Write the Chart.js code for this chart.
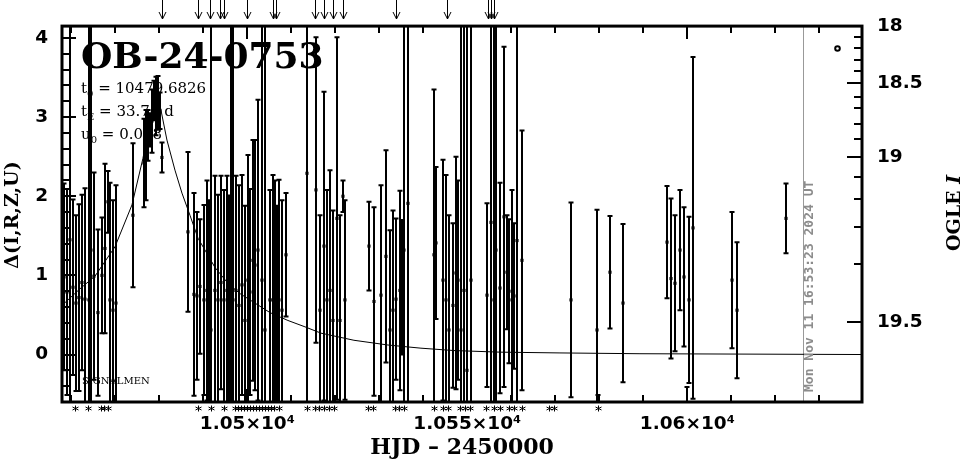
<!DOCTYPE html>
<html>
<head>
<meta charset="utf-8">
<script src="https://cdn.jsdelivr.net/npm/chart.js@4.4.1/dist/chart.umd.min.js"></script>
<style>
  html, body { margin: 0; padding: 0; background: #fff; }
  #wrap { width: 965px; height: 459px; }
</style>
</head>
<body>
<div id="wrap"><canvas id="lc" width="965" height="459"></canvas></div>
<script>
// OGLE light curve (HJD - 2450000, delta mag)
const hjd = [
  10458.34, 10459.02, 10459.70, 10460.39, 10461.07, 10461.75, 10462.43, 10463.11, 10464.02, 10464.48,
  10465.16, 10466.07, 10466.98, 10467.66, 10468.34, 10468.80, 10469.48, 10470.16, 10474.02, 10476.52,
  10476.98, 10477.43, 10477.89, 10478.34, 10478.80, 10479.25, 10479.70, 10480.16, 10480.61, 10486.52,
  10487.89, 10488.57, 10489.25, 10490.16, 10490.84, 10491.30, 10491.75, 10492.66, 10493.34, 10494.02,
  10494.70, 10495.39, 10495.84, 10496.30, 10496.75, 10497.43, 10498.11, 10498.80, 10499.48, 10500.16,
  10500.61, 10501.30, 10501.75, 10502.43, 10503.34, 10504.02, 10505.16, 10505.84, 10506.30, 10506.75,
  10507.20, 10507.89, 10508.80, 10513.57, 10515.61, 10516.52, 10517.43, 10518.11, 10518.80, 10519.48,
  10520.39, 10521.07, 10521.75, 10522.20, 10527.66, 10528.80, 10530.39, 10531.52, 10532.43, 10533.11,
  10533.80, 10534.70, 10535.16, 10535.61, 10536.52, 10542.43, 10542.89, 10544.48, 10545.16, 10545.84,
  10546.75, 10547.43, 10547.89, 10548.57, 10549.25, 10549.93, 10550.84, 10554.48, 10555.39, 10556.07,
  10556.52, 10557.43, 10558.34, 10559.02, 10559.48, 10560.16, 10560.61, 10561.30, 10562.43, 10573.57,
  10579.48, 10579.70, 10582.43, 10585.39, 10595.39, 10596.30, 10597.20, 10598.34, 10599.25, 10599.93,
  10600.39, 10601.30, 10610.16, 10611.30, 10622.43
];
const delta = [
  0.98, 0.79, 1.45, 0.85, 0.65, 0.72, 0.91, 0.70, 0.69, 1.32,
  0.99, 0.53, 1.00, 1.34, 1.93, 0.69, 0.56, 0.65, 1.76, 2.42,
  2.52, 2.77, 2.84, 2.95, 3.21, 3.14, 3.18, 3.08, 2.49, 1.55,
  0.76, 0.74, 0.86, 0.69, 0.81, 0.56, 0.31, 0.81, 0.69, 0.91,
  0.69, 0.81, 0.56, 0.43, 0.69, 0.81, 0.62, 0.88, 0.43, 0.94,
  0.79, 1.19, 1.13, 1.32, 0.94, 0.31, 0.69, 0.69, 0.81, 0.43,
  0.69, 0.56, 1.26, 2.29, 2.08, 0.56, 1.37, 0.69, 0.81, 0.43,
  1.72, 0.43, 2.00, 0.69, 1.37, 0.67, 0.75, 1.24, 0.31, 0.56,
  0.70, 0.81, 0.85, 1.32, 1.91, 1.26, 1.41, 0.94, 0.69, 0.31,
  0.62, 1.03, 0.94, 0.31, 0.81, -0.20, 0.94, 0.75, 1.67, 0.69,
  1.32, 0.84, 1.74, 1.04, 0.80, 0.69, 0.74, 1.44, 1.19, 0.69,
  0.31, -1.08, 1.04, 0.65, 1.42, 0.96, 0.90, 1.32, 0.98, -1.08,
  0.69, 1.60, 0.94, 0.56, 1.72
];
const deltaErr = [
  1.18, 1.30, 5.00, 1.11, 1.11, 1.18, 1.11, 1.40, 5.00, 5.00,
  1.31, 1.05, 0.73, 1.07, 0.39, 1.48, 1.39, 1.49, 0.91, 0.56,
  0.57, 0.32, 0.21, 0.40, 0.25, 0.37, 0.34, 0.23, 0.19, 1.01,
  1.28, 1.06, 0.85, 1.20, 1.39, 1.39, 5.00, 1.45, 1.33, 1.35,
  1.39, 1.45, 1.45, 5.00, 5.00, 1.45, 1.52, 1.39, 1.45, 1.58,
  1.30, 1.52, 1.58, 1.90, 5.00, 5.00, 1.39, 1.58, 1.39, 1.45,
  1.52, 1.39, 0.78, 5.00, 1.93, 1.20, 1.95, 1.39, 1.52, 1.39,
  2.29, 1.33, 0.20, 1.26, 0.56, 1.19, 1.39, 1.34, 1.26, 1.26,
  1.02, 1.26, 0.85, 5.00, 5.00, 2.09, 0.96, 1.52, 1.58, 1.45,
  1.04, 1.47, 1.26, 5.00, 5.00, 5.00, 5.00, 1.16, 5.00, 5.00,
  5.00, 1.33, 2.15, 0.72, 0.91, 1.39, 0.92, 5.00, 1.64, 1.23,
  1.52, 0.57, 0.71, 1.00, 0.71, 1.01, 0.86, 0.76, 0.88, 0.67,
  1.05, 2.16, 0.86, 0.86, 0.44
];

// fitted model curve as drawn
const modelHjd = [
  10457.89, 10461.98, 10465.39, 10469.93, 10473.80, 10476.30, 10477.89, 10479.70, 10481.75, 10483.57,
  10485.16, 10486.98, 10488.80, 10490.39, 10492.66, 10495.61, 10498.34, 10501.75, 10505.16, 10509.25,
  10513.11, 10516.75, 10524.25, 10531.98, 10539.48, 10546.98, 10557.43, 10571.07, 10589.25, 10639.70
];
const modelDelta = [
  0.62, 0.83, 0.99, 1.36, 1.89, 2.48, 2.96, 3.28, 2.71, 2.33,
  2.04, 1.76, 1.47, 1.32, 1.10, 0.90, 0.77, 0.65, 0.53, 0.43,
  0.35, 0.27, 0.18, 0.12, 0.08, 0.05, 0.03, 0.02, 0.01, 0.00
];

// markers above and below the frame
const arrowHjd = [
  10480.6, 10488.8, 10491.5, 10493.8, 10494.7, 10499.9, 10505.8, 10506.5, 10515.4,
  10517.4, 10519.5, 10521.8, 10533.8, 10545.4, 10554.7, 10555.4, 10556.1
];
const starHjd = [
  10460.8, 10463.8, 10466.7, 10467.4, 10468.3, 10488.8, 10491.7, 10494.7, 10497.2, 10497.9,
  10498.6, 10499.3, 10499.9, 10500.6, 10501.3, 10502.0, 10502.7, 10503.3, 10504.0, 10504.7,
  10505.4, 10506.1, 10507.2, 10513.6, 10515.4, 10516.3, 10517.4, 10518.6, 10519.7, 10527.4,
  10528.6, 10533.6, 10534.5, 10535.6, 10542.4, 10544.5, 10545.6, 10548.3, 10549.4, 10550.6,
  10554.2, 10556.1, 10557.4, 10559.5, 10560.6, 10562.4, 10568.6, 10569.7, 10579.7
];

// axes
const xTickValues = [10500, 10550, 10600];
const xTickLabels = ['1.05×10⁴', '1.055×10⁴', '1.06×10⁴'];
const yTickValues = [0, 1, 2, 3, 4];
const yTickLabels = ['0', '1', '2', '3', '4'];
const ogleMagDelta = [4.15, 3.434, 2.498, 0.412];
const ogleMagLabels = ['18', '18.5', '19', '19.5'];
const ogleMinorDelta = [4.015, 3.869, 3.721, 3.585, 3.249, 3.110, 2.911, 2.722, 2.245, 1.963, 1.613, 1.142];

const X_MIN = 10457.9, X_MAX = 10639.7;
const Y_MIN = -0.6, Y_MAX = 4.15;
const nowHjd = 10626.2;
const stamp = 'Mon Nov 11 16:53:23 2024 UT';

const tickFont = { family: 'DejaVu Sans', size: 18.5, weight: 'bold' };

function fixTicks(values) {
  return function(scale) {
    scale.ticks = values.map(function(v) { return { value: v }; });
  };
}

function labelFor(values, labels) {
  return function(value) {
    const i = values.indexOf(value);
    return i >= 0 ? labels[i] : '';
  };
}

function drawSubText(ctx, x, y, main, sub, rest) {
  ctx.font = "15px 'DejaVu Serif'";
  ctx.fillText(main, x, y);
  let cx = x + ctx.measureText(main).width;
  ctx.font = "10px 'DejaVu Serif'";
  ctx.fillText(sub, cx, y + 4);
  cx += ctx.measureText(sub).width;
  ctx.font = "15px 'DejaVu Serif'";
  ctx.fillText(rest, cx, y);
}

const lightCurvePlugin = {
  id: 'lightCurve',
  beforeDatasetsDraw(chart) {
    const ctx = chart.ctx;
    const a = chart.chartArea;
    const xs = chart.scales.x, ys = chart.scales.y;

    ctx.save();
    ctx.beginPath();
    ctx.rect(a.left, a.top, a.right - a.left, a.bottom - a.top);
    ctx.clip();

    // "now" line
    const nx = Math.round(xs.getPixelForValue(nowHjd)) + 0.5;
    ctx.strokeStyle = '#999';
    ctx.lineWidth = 1;
    ctx.beginPath();
    ctx.moveTo(nx, a.top);
    ctx.lineTo(nx, a.bottom);
    ctx.stroke();

    // error bars
    ctx.strokeStyle = '#000';
    ctx.lineWidth = 2;
    hjd.forEach(function(t, i) {
      const px = Math.round(xs.getPixelForValue(t));
      const y1 = ys.getPixelForValue(delta[i] + deltaErr[i]);
      const y2 = ys.getPixelForValue(delta[i] - deltaErr[i]);
      ctx.beginPath();
      ctx.moveTo(px, y1);
      ctx.lineTo(px, y2);
      ctx.moveTo(px - 2.5, y1);
      ctx.lineTo(px + 2.5, y1);
      ctx.moveTo(px - 2.5, y2);
      ctx.lineTo(px + 2.5, y2);
      ctx.stroke();
    });
    ctx.restore();
  },
  afterDraw(chart) {
    const ctx = chart.ctx;
    const a = chart.chartArea;
    const xs = chart.scales.x, ys = chart.scales.y;

    ctx.save();
    ctx.strokeStyle = '#000';
    ctx.fillStyle = '#000';

    // frame
    ctx.lineWidth = 3;
    ctx.strokeRect(a.left, a.top, a.right - a.left, a.bottom - a.top);

    // inward ticks
    ctx.lineWidth = 2;
    ctx.beginPath();
    for (let d = 10460; d <= 10630; d += 10) {
      const px = Math.round(xs.getPixelForValue(d));
      const len = d % 50 === 0 ? 13 : 7;
      ctx.moveTo(px, a.bottom); ctx.lineTo(px, a.bottom - len);
      ctx.moveTo(px, a.top); ctx.lineTo(px, a.top + len);
    }
    for (let k = -2; k <= 20; k++) {
      const v = k * 0.2;
      const py = Math.round(ys.getPixelForValue(v));
      const len = k % 5 === 0 ? 14 : 7;
      ctx.moveTo(a.left, py); ctx.lineTo(a.left + len, py);
    }
    ogleMagDelta.forEach(function(v) {
      const py = Math.round(ys.getPixelForValue(v));
      ctx.moveTo(a.right, py); ctx.lineTo(a.right - 15, py);
    });
    ogleMinorDelta.forEach(function(v) {
      const py = Math.round(ys.getPixelForValue(v));
      ctx.moveTo(a.right, py); ctx.lineTo(a.right - 8, py);
    });
    ctx.stroke();

    // arrows above the frame
    ctx.lineWidth = 1;
    ctx.beginPath();
    arrowHjd.forEach(function(t) {
      const px = Math.round(xs.getPixelForValue(t)) + 0.5;
      ctx.moveTo(px, 0); ctx.lineTo(px, 19);
      ctx.moveTo(px - 3.5, 12); ctx.lineTo(px, 19); ctx.lineTo(px + 3.5, 12);
    });
    ctx.stroke();

    // asterisks under the frame
    ctx.beginPath();
    starHjd.forEach(function(t) {
      const px = Math.round(xs.getPixelForValue(t)) + 0.5;
      const py = 408.5;
      ctx.moveTo(px, py - 3); ctx.lineTo(px, py + 3);
      ctx.moveTo(px - 3, py - 1.5); ctx.lineTo(px + 3, py + 1.5);
      ctx.moveTo(px - 3, py + 1.5); ctx.lineTo(px + 3, py - 1.5);
    });
    ctx.stroke();

    // event name and fit parameters
    ctx.textAlign = 'left';
    ctx.textBaseline = 'alphabetic';
    ctx.font = "bold 36px 'DejaVu Serif'";
    ctx.fillText('OB-24-0753', 81, 68);
    drawSubText(ctx, 81, 93, 't', '0', ' = 10479.6826');
    drawSubText(ctx, 81, 116, 't', 'E', ' = 33.76 d');
    drawSubText(ctx, 81, 139, 'u', '0', ' = 0.048');
    ctx.font = "10px 'DejaVu Serif'";
    ctx.fillText('SIGNALMEN', 82, 384);

    // small circle, top right
    ctx.lineWidth = 2;
    ctx.beginPath();
    ctx.arc(837.5, 48.5, 2.3, 0, Math.PI * 2);
    ctx.stroke();

    // axis titles
    ctx.font = "bold 22px 'DejaVu Serif'";
    ctx.textAlign = 'center';
    ctx.textBaseline = 'middle';
    ctx.fillText('HJD – 2450000', (a.left + a.right) / 2, 448);

    ctx.save();
    ctx.translate(13, 215);
    ctx.rotate(-Math.PI / 2);
    ctx.font = "bold 19px 'DejaVu Serif'";
    ctx.fillText('Δ(I,R,Z,U)', 0, 0);
    ctx.restore();

    ctx.save();
    ctx.translate(955, 213);
    ctx.rotate(-Math.PI / 2);
    ctx.textAlign = 'left';
    ctx.font = "bold 19px 'DejaVu Serif'";
    const w1 = ctx.measureText('OGLE ').width;
    ctx.font = "italic bold 19px 'DejaVu Serif'";
    const w2 = ctx.measureText('I').width;
    ctx.font = "bold 19px 'DejaVu Serif'";
    ctx.fillText('OGLE ', -(w1 + w2) / 2, 0);
    ctx.font = "italic bold 19px 'DejaVu Serif'";
    ctx.fillText('I', -(w1 + w2) / 2 + w1, 0);
    ctx.restore();

    // time stamp along the "now" line
    ctx.save();
    ctx.translate(810, 392);
    ctx.rotate(-Math.PI / 2);
    ctx.textAlign = 'left';
    ctx.fillStyle = '#8c8c8c';
    ctx.font = "bold 13px 'DejaVu Sans Mono'";
    ctx.fillText(stamp, 0, 0);
    ctx.restore();

    ctx.restore();
  }
};

const ctx = document.getElementById('lc').getContext('2d');
new Chart(ctx, {
  type: 'scatter',
  data: {
    datasets: [
      {
        label: 'OGLE I',
        data: hjd.map(function(t, i) { return { x: t, y: delta[i] }; }),
        pointStyle: 'rect',
        pointRadius: 2.2,
        backgroundColor: '#000',
        borderColor: '#000',
        borderWidth: 0
      },
      {
        label: 'model',
        data: modelHjd.map(function(t, i) { return { x: t, y: modelDelta[i] }; }),
        showLine: true,
        pointRadius: 0,
        borderColor: '#000',
        borderWidth: 1,
        tension: 0,
        fill: false
      }
    ]
  },
  options: {
    responsive: false,
    animation: false,
    devicePixelRatio: 1,
    layout: { padding: { top: 26, left: 0, right: 0, bottom: 0 } },
    plugins: { legend: { display: false }, tooltip: { enabled: false } },
    scales: {
      x: {
        type: 'linear', position: 'bottom', min: X_MIN, max: X_MAX,
        grid: { display: false, drawTicks: false },
        border: { display: false },
        afterBuildTicks: fixTicks(xTickValues),
        afterFit: function(s) { s.height = 57; },
        ticks: {
          callback: labelFor(xTickValues, xTickLabels),
          font: tickFont, color: '#000', padding: 11, maxRotation: 0, autoSkip: false
        }
      },
      y: {
        type: 'linear', position: 'left', min: Y_MIN, max: Y_MAX,
        grid: { display: false, drawTicks: false },
        border: { display: false },
        afterBuildTicks: fixTicks(yTickValues),
        afterFit: function(s) { s.width = 62; },
        ticks: {
          callback: labelFor(yTickValues, yTickLabels),
          font: tickFont, color: '#000', padding: 14, autoSkip: false
        }
      },
      y2: {
        type: 'linear', position: 'right', min: Y_MIN, max: Y_MAX,
        grid: { display: false, drawTicks: false },
        border: { display: false },
        afterBuildTicks: fixTicks(ogleMagDelta),
        afterFit: function(s) { s.width = 103; },
        ticks: {
          callback: labelFor(ogleMagDelta, ogleMagLabels),
          font: tickFont, color: '#000', padding: 15, autoSkip: false
        }
      }
    }
  },
  plugins: [lightCurvePlugin]
});
</script>
</body>
</html>
